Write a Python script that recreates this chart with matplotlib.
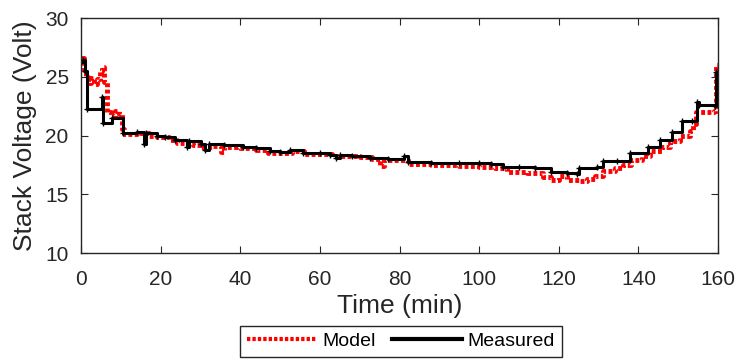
import matplotlib.pyplot as plt
import numpy as np
from matplotlib.lines import Line2D

plt.rcParams["font.family"] = ["Liberation Sans", "DejaVu Sans"]

# measured stack voltage (step data)
meas_t = [0, 0.5, 1.0, 1.4, 5.2, 5.6, 7.8, 10.4, 14, 15.8, 16.4, 19, 21, 23.6,
          26.5, 27.2, 30, 31, 32, 36, 40.7, 44, 47.5, 50, 52.5, 55.8, 60, 62.6,
          64, 65, 68, 72.6, 77, 81, 82, 88, 95, 100, 103, 106, 110, 114, 118,
          122, 124.6, 125, 129.6, 131, 134.7, 137.9, 142.5, 145.5, 148.4,
          150.9, 153.5, 154.7, 155.3, 159.3, 159.5, 160]
meas_v = [26.3, 26.4, 25.5, 22.3, 23.3, 21.1, 21.5, 20.2, 20.3, 19.3, 20.2, 20.0,
          19.9, 19.6, 19.0, 19.5, 19.3, 18.8, 19.3, 19.2, 19.0, 18.95, 18.65,
          18.6, 18.8, 18.55, 18.5, 18.35, 18.1, 18.35, 18.3, 18.05, 18.0, 18.25,
          17.75, 17.7, 17.7, 17.65, 17.6, 17.35, 17.3, 17.2, 16.9, 16.85, 16.7,
          17.2, 17.3, 17.8, 17.85, 18.5, 19.05, 19.6, 20.3, 21.2, 21.2, 22.9,
          22.6, 22.5, 25.4, 25.4]

# model output
model_t = [0, 0.6, 1.2, 1.8, 2.5, 3.2, 4.0, 4.8, 5.3, 5.8, 6.4, 7.5, 8.5, 9.6,
           10.2, 10.8, 14, 17, 19, 22, 24, 26, 28, 30, 33, 35, 36, 40, 44, 47,
           50, 53, 56, 60, 63, 66, 70, 73, 75, 76, 80, 82, 88, 95, 100, 104,
           107, 112, 116, 118, 120, 122, 125, 127, 129, 131, 134, 136, 138, 141,
           143, 146, 148, 150.5, 153, 153.8, 154.5, 159, 159.4, 160]
model_v = [26.6, 25.6, 25.0, 24.5, 24.9, 24.4, 24.8, 25.5, 25.8, 24.6, 22.0, 21.7,
           22.1, 21.8, 20.6, 20.1, 20.2, 20.0, 19.9, 19.6, 19.4, 19.3, 19.2,
           19.05, 19.1, 18.6, 19.0, 18.95, 18.8, 18.55, 18.5, 18.7, 18.45, 18.4,
           18.25, 18.3, 18.15, 18.0, 17.4, 17.95, 17.9, 17.55, 17.5, 17.45,
           17.35, 17.25, 16.9, 16.8, 16.5, 16.2, 16.6, 16.25, 16.1, 16.3, 16.6,
           17.0, 17.2, 17.5, 17.9, 18.3, 18.7, 19.0, 19.5, 20.0, 20.4, 21.0,
           22.0, 22.1, 26.0, 26.0]

fig = plt.figure(figsize=(7.38, 3.62), dpi=100)
ax = fig.add_axes([0.110, 0.301, 0.863, 0.649])

ax.plot(model_t, model_v, color="red", linewidth=3.5, dashes=(0.8, 0.5),
        drawstyle="steps-post")
ax.plot(meas_t, meas_v, color="black", linewidth=2.2, drawstyle="steps-post",
        marker="+", markersize=4)

ax.set_xlim(0, 160)
ax.set_ylim(10, 30)
ax.set_xticks(np.arange(0, 161, 20))
ax.set_yticks(np.arange(10, 31, 5))

grey = "#262626"
for spine in ax.spines.values():
    spine.set_color(grey)
    spine.set_linewidth(1.0)
ax.tick_params(direction="in", length=5, top=True, right=True,
               labelsize=15, colors=grey)
ax.tick_params(axis="x", pad=12)
ax.tick_params(axis="y", pad=9)
ax.set_xlabel("Time (min)", fontsize=19, color=grey, labelpad=4)
ax.set_ylabel("Stack Voltage (Volt)", fontsize=19, color=grey, labelpad=6)

handles = [Line2D([], [], color="red", linewidth=3, dashes=(0.8, 0.5)),
           Line2D([], [], color="black", linewidth=3)]
fig.legend(handles, ["Model", "Measured"], loc="upper center",
           bbox_to_anchor=(0.543, 0.1), ncol=2, fontsize=14,
           frameon=True, fancybox=False, edgecolor=grey, framealpha=1,
           handlelength=3.6, handletextpad=0.3, columnspacing=0.8,
           borderpad=0.35, borderaxespad=0)

fig.savefig("out.png", dpi=100)
